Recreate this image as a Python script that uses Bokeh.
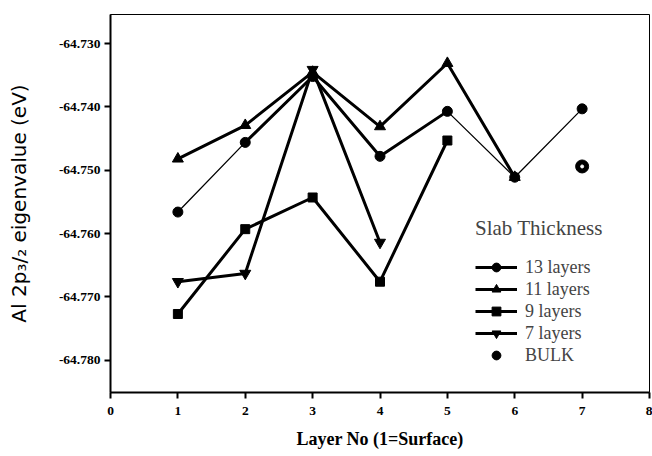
from bokeh.plotting import figure
from bokeh.models import (Range1d, FixedTicker, PrintfTickFormatter, Legend, LegendItem)
from bokeh.embed import file_html
from bokeh.resources import INLINE

# ---- data ----
layers_13 = [1, 2, 3, 4, 5, 6, 7]
vals_13 = [-64.7566, -64.7456, -64.7352, -64.7478, -64.7407, -64.7511, -64.7403]
layers_11 = [1, 2, 3, 4, 5, 6]
vals_11 = [-64.7482, -64.7429, -64.7345, -64.7431, -64.7331, -64.7511]
layers_9 = [1, 2, 3, 4, 5]
vals_9 = [-64.7727, -64.7593, -64.7543, -64.7676, -64.7453]
layers_7 = [1, 2, 3, 4]
vals_7 = [-64.7676, -64.7663, -64.7341, -64.7614]
bulk_layer = [7]
bulk_val = [-64.7494]
x_ticks = [0, 1, 2, 3, 4, 5, 6, 7, 8]
y_ticks = [-64.78, -64.77, -64.76, -64.75, -64.74, -64.73]

SERIF = "Liberation Serif"

p = figure(width=652, height=456, output_backend="svg", toolbar_location=None,
           x_range=Range1d(0, 8), y_range=Range1d(-64.7851, -64.7254),
           min_border_left=110, min_border_right=3, min_border_top=14,
           min_border_bottom=64)
p.grid.visible = False
p.outline_line_color = "black"
p.outline_line_width = 1
p.background_fill_color = "white"
p.border_fill_color = "white"

for ax in (p.xaxis[0], p.yaxis[0]):
    ax.axis_line_width = 2
    ax.axis_line_color = "black"
    ax.major_tick_line_width = 2
    ax.major_tick_out = 6
    ax.major_tick_in = 0
    ax.minor_tick_out = 0
    ax.minor_tick_in = 0
    ax.major_label_text_font = SERIF
    ax.major_label_text_font_style = "bold"
    ax.major_label_text_font_size = "13.5px"
    ax.major_label_text_color = "black"
    ax.axis_label_text_color = "black"

p.xaxis.ticker = FixedTicker(ticks=x_ticks)
p.yaxis.ticker = FixedTicker(ticks=y_ticks)
p.yaxis.formatter = PrintfTickFormatter(format="%.3f")
p.xaxis.major_label_standoff = 8
p.yaxis.major_label_standoff = 4

p.xaxis.axis_label = "Layer No (1=Surface)"
p.xaxis.axis_label_text_font = SERIF
p.xaxis.axis_label_text_font_style = "bold"
p.xaxis.axis_label_text_font_size = "18px"
p.xaxis.axis_label_standoff = 11

p.yaxis.axis_label = "Al 2p\u2083/\u2082 eigenvalue (eV)"
p.yaxis.axis_label_text_font = "DejaVu Sans"
p.yaxis.axis_label_text_font_style = "normal"
p.yaxis.axis_label_text_font_size = "20px"
p.yaxis.axis_label_standoff = 25

THICK = 3
THIN = 1.3

# 13 layers: thin overall, thick between layers 2-5
p.line(layers_13, vals_13, line_color="black", line_width=THIN)
r13_line = p.line(layers_13[1:5], vals_13[1:5], line_color="black", line_width=THICK)
r13_pts = p.scatter(layers_13, vals_13, marker="circle", size=10, color="black")

r11_line = p.line(layers_11, vals_11, line_color="black", line_width=THICK)
r11_pts = p.scatter(layers_11, vals_11, marker="triangle", size=11, color="black")

r9_line = p.line(layers_9, vals_9, line_color="black", line_width=THICK)
r9_pts = p.scatter(layers_9, vals_9, marker="square", size=9, color="black")

r7_line = p.line(layers_7, vals_7, line_color="black", line_width=THICK)
r7_pts = p.scatter(layers_7, vals_7, marker="inverted_triangle", size=11, color="black")

rb = p.scatter(bulk_layer, bulk_val, marker="circle", size=13, color="black")
p.scatter(bulk_layer, bulk_val, marker="circle", size=3, color="white")

legend = Legend(items=[
    LegendItem(label="13 layers", renderers=[r13_line, r13_pts]),
    LegendItem(label="11 layers", renderers=[r11_line, r11_pts]),
    LegendItem(label="9 layers", renderers=[r9_line, r9_pts]),
    LegendItem(label="7 layers", renderers=[r7_line, r7_pts]),
    LegendItem(label="BULK", renderers=[rb]),
], location=(365, 26))
legend.title = "Slab Thickness"
legend.title_text_font = SERIF
legend.title_text_font_size = "21px"
legend.title_text_font_style = "normal"
legend.title_standoff = 15
legend.label_text_font = SERIF
legend.label_text_font_size = "18px"
legend.label_text_font_style = "normal"
legend.glyph_width = 42
legend.glyph_height = 22
legend.label_height = 22
legend.spacing = 0
legend.padding = 0
legend.margin = 0
legend.label_standoff = 8
legend.border_line_color = None
legend.background_fill_alpha = 0
p.add_layout(legend)

open("out.html", "w").write(file_html(p, INLINE))
